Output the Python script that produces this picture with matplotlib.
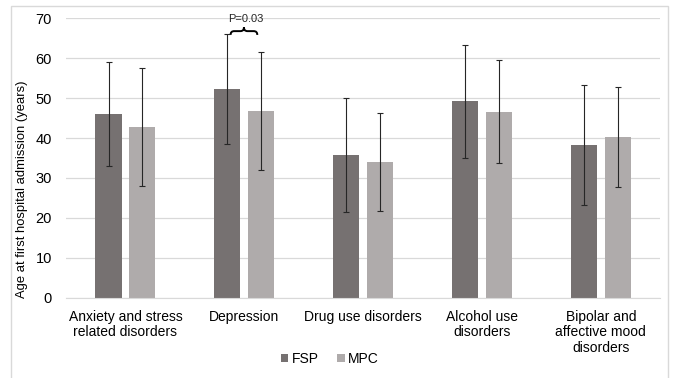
import matplotlib
matplotlib.use("Agg")
import matplotlib.pyplot as plt
import numpy as np
from matplotlib.patches import Rectangle
from matplotlib.path import Path
from matplotlib.patches import PathPatch

plt.rcParams['font.family'] = ['Liberation Sans', 'DejaVu Sans']

categories = ["Anxiety and stress\nrelated disorders", "Depression", "Drug use disorders",
              "Alcohol use\ndisorders", "Bipolar and\naffective mood\ndisorders"]
fsp = [46.0, 52.2, 35.8, 49.2, 38.2]
fsp_err = [13.0, 13.8, 14.2, 14.1, 15.0]
mpc = [42.8, 46.8, 34.0, 46.6, 40.2]
mpc_err = [14.7, 14.7, 12.2, 12.9, 12.5]
series_names = ["FSP", "MPC"]
colors = ["#767171", "#AFABAB"]

fig = plt.figure(figsize=(6.73, 3.78), dpi=100)
ax = fig.add_axes([0.098, 0.212, 0.883, 0.74])

x = np.arange(len(categories))
w = 0.22
off = 0.142
ax.bar(x - off, fsp, w, color=colors[0], label=series_names[0], zorder=2)
ax.bar(x + off, mpc, w, color=colors[1], label=series_names[1], zorder=2)
ax.errorbar(x - off, fsp, yerr=fsp_err, fmt='none', ecolor='#262626', elinewidth=0.8, capsize=2, capthick=0.8, zorder=3)
ax.errorbar(x + off, mpc, yerr=mpc_err, fmt='none', ecolor='#262626', elinewidth=0.8, capsize=2, capthick=0.8, zorder=3)

ax.set_ylim(0, 70)
ax.set_xlim(-0.5, len(categories) - 0.5)
ax.set_yticks(range(0, 71, 10))
ax.yaxis.grid(True, color='#D9D9D9', linewidth=0.9, zorder=0)
ax.set_axisbelow(True)
for s in ['top', 'right', 'left']:
    ax.spines[s].set_visible(False)
ax.spines['bottom'].set_color('#D9D9D9')
ax.tick_params(axis='both', length=0, colors='#000000')
ax.tick_params(axis='y', labelsize=10.5, pad=10)
ax.set_xticks(x)
ax.set_xticklabels(categories, fontsize=10, linespacing=1.1)
ax.tick_params(axis='x', pad=9)
ax.set_ylabel("Age at first hospital admission (years)", fontsize=9.4)
ax.yaxis.set_label_coords(-0.064, 0.39)

# brace annotation over Depression
g = 1
x0, x1 = g - 0.115, g + 0.11
yb, h = 65.8, 1.9
xm = (x0 + x1) / 2
ym = yb + h * 0.5
verts = [(x0, yb), (x0, ym), (x0 + 0.03, ym), (xm - 0.03, ym),
         (xm, ym), (xm, yb + h),
         (xm, ym), (xm + 0.03, ym), (x1 - 0.03, ym),
         (x1, ym), (x1, yb)]
codes = [Path.MOVETO, Path.CURVE3, Path.CURVE3, Path.LINETO, Path.CURVE3, Path.CURVE3,
         Path.CURVE3, Path.CURVE3, Path.LINETO, Path.CURVE3, Path.CURVE3]
ax.add_patch(PathPatch(Path(verts, codes), fill=False, lw=1.4, color='black', clip_on=False))
ax.text(xm + 0.02, 68.6, "P=0.03", ha='center', va='bottom', fontsize=8, color='#262626', clip_on=False)

fig.legend(loc='center', bbox_to_anchor=(0.49, 0.05), ncol=2, frameon=False, fontsize=10,
           handlelength=0.55, handleheight=0.55, handletextpad=0.25, columnspacing=1.3)

fig.add_artist(Rectangle((0.017, -0.01), 0.975, 0.993, transform=fig.transFigure,
                         fill=False, edgecolor='#D9D9D9', lw=1.0))

fig.savefig("out.png", dpi=100)
